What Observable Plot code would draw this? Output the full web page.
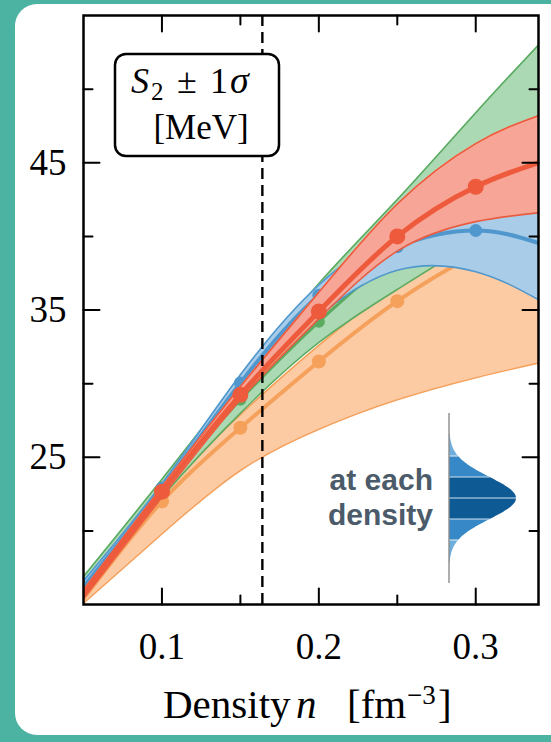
<!DOCTYPE html>
<html>
<head>
<meta charset="utf-8">
<script src="https://cdn.jsdelivr.net/npm/d3@7"></script>
<script src="https://cdn.jsdelivr.net/npm/@observablehq/plot@0.6"></script>
<style>
  html, body { margin: 0; padding: 0; }
  body { width: 551px; height: 742px; background: #4cb2a2; position: relative; overflow: hidden; }
  #panel { position: absolute; left: 15px; top: 4px; width: 560px; height: 731px; background: #fff; border-radius: 22px; }
  #chart { position: absolute; left: 0; top: 0; }
  #chart svg { display: block; overflow: visible; }
</style>
</head>
<body>
<div id="panel"></div>
<div id="chart"></div>
<script>
// Density grid (fm^-3) at which each band is sampled
const density = [0.05, 0.1, 0.15, 0.2, 0.25, 0.3, 0.34];

// Symmetry energy S2 [MeV]: lower 1σ edge, central value, upper 1σ edge
const orangeLower = [15.1, 19.8, 24.1, 26.9, 28.9, 30.4, 31.4];
const orangeMid   = [15.4, 22.0, 27.0, 31.5, 35.6, 38.8, 40.8];
const orangeUpper = [16.2, 22.6, 27.9, 32.6, 36.7, 40.0, 41.5];

const greenLower = [16.0, 22.3, 28.0, 32.8, 36.4, 39.7, 42.2];
const greenMid   = [16.4, 22.9, 28.9, 34.2, 38.9, 43.6, 47.2];
const greenUpper = [16.9, 23.5, 30.3, 36.8, 42.5, 48.4, 53.0];

const blueLower = [15.8, 22.5, 29.3, 34.6, 37.7, 37.6, 35.7];
const blueMid   = [16.2, 22.9, 30.05, 36.0, 39.3, 40.4, 39.55];
const blueUpper = [16.6, 23.2, 30.6, 36.7, 40.2, 41.4, 41.6];

const redLower = [15.4, 22.3, 28.9, 34.4, 39.0, 41.0, 41.6];
const redMid   = [15.7, 22.66, 29.24, 34.9, 40.0, 43.37, 45.0];
const redUpper = [16.0, 23.0, 29.8, 36.2, 42.2, 46.3, 48.2];

// Densities where the central values are marked with dots
const dotDensities = [0.1, 0.15, 0.2, 0.25, 0.3];

// Saturation density
const nSat = 0.164;

// Ticks
const xMajor = [0.1, 0.2, 0.3];
const xMinor = [0.15, 0.25];
const yMajor = [25, 35, 45];
const yMinor = [20, 30, 40, 50];

const series = [
  {name: "orange", lo: orangeLower, mid: orangeMid, hi: orangeUpper, band: "#fccba3", line: "#f5a15c", w: 4, r: 7},
  {name: "green",  lo: greenLower,  mid: greenMid,  hi: greenUpper,  band: "#abd9b3", line: "#5aab61", w: 3, r: 6},
  {name: "blue",   lo: blueLower,   mid: blueMid,   hi: blueUpper,   band: "#a9cde9", line: "#4f97cd", w: 4, r: 6.5},
  {name: "red",    lo: redLower,    mid: redMid,    hi: redUpper,    band: "#f7a596", line: "#ee5a3c", w: 5, r: 8}
];

const tickShape = {draw(context, l) { context.moveTo(0, 0); context.lineTo(0, -l); }};
const tickStyle = {stroke: "black", strokeWidth: 2, anchor: "start", shape: tickShape};

const marks = [];
for (const s of series) {
  const rows = density.map((n, i) => ({n, lo: s.lo[i], mid: s.mid[i], hi: s.hi[i]}));
  const dots = rows.filter(d => dotDensities.includes(d.n));
  marks.push(
    Plot.areaY(rows, {x: "n", y1: "lo", y2: "hi", fill: s.band, curve: "natural", clip: true}),
    Plot.line(rows, {x: "n", y: "lo", stroke: s.line, strokeWidth: 1.6, curve: "natural", clip: true}),
    Plot.line(rows, {x: "n", y: "hi", stroke: s.line, strokeWidth: 1.6, curve: "natural", clip: true}),
    Plot.line(rows, {x: "n", y: "mid", stroke: s.line, strokeWidth: s.w, curve: "natural", clip: true}),
    Plot.dot(dots, {x: "n", y: "mid", r: s.r, fill: s.line, clip: true})
  );
}

marks.push(
  Plot.ruleX([nSat], {stroke: "black", strokeWidth: 2.4, strokeDasharray: "11,6"}),
  // inward ticks on all four sides
  Plot.vector(xMajor, {x: d => d, frameAnchor: "bottom", rotate: 0, length: 16, ...tickStyle}),
  Plot.vector(xMinor, {x: d => d, frameAnchor: "bottom", rotate: 0, length: 9, ...tickStyle}),
  Plot.vector(xMajor, {x: d => d, frameAnchor: "top", rotate: 180, length: 16, ...tickStyle}),
  Plot.vector(xMinor, {x: d => d, frameAnchor: "top", rotate: 180, length: 9, ...tickStyle}),
  Plot.vector(yMajor, {y: d => d, frameAnchor: "left", rotate: 90, length: 16, ...tickStyle}),
  Plot.vector(yMinor, {y: d => d, frameAnchor: "left", rotate: 90, length: 9, ...tickStyle}),
  Plot.vector(yMajor, {y: d => d, frameAnchor: "right", rotate: -90, length: 16, ...tickStyle}),
  Plot.vector(yMinor, {y: d => d, frameAnchor: "right", rotate: -90, length: 9, ...tickStyle}),
  Plot.axisX({ticks: xMajor, tickSize: 0, tickPadding: 28, fontSize: 37, label: null, tickFormat: d => d.toFixed(1)}),
  Plot.axisY({ticks: yMajor, tickSize: 0, tickPadding: 17, fontSize: 37, label: null}),
  Plot.frame({stroke: "black", strokeWidth: 2.5})
);

const chart = Plot.plot({
  width: 551,
  height: 742,
  marginLeft: 83,
  marginRight: 13,
  marginTop: 15,
  marginBottom: 138,
  x: {domain: [0.05, 0.34]},
  y: {domain: [15, 55]},
  style: {background: "transparent", fontFamily: "'Liberation Serif', serif", color: "black"},
  marks
});
document.getElementById("chart").appendChild(chart);

const svg = d3.select(chart);
const serif = "'Liberation Serif', serif";

// Legend box
const key = svg.append("g").attr("font-family", serif).attr("text-anchor", "start");
key.append("rect")
  .attr("x", 115).attr("y", 54).attr("width", 164).attr("height", 102).attr("rx", 11)
  .attr("fill", "white").attr("stroke", "black").attr("stroke-width", 2.5);
key.append("text").attr("x", 131).attr("y", 93).attr("font-size", 36).attr("font-style", "italic").text("S");
key.append("text").attr("x", 151).attr("y", 100).attr("font-size", 25).text("2");
key.append("text").attr("x", 177).attr("y", 93).attr("font-size", 36).text("±");
key.append("text").attr("x", 210).attr("y", 93).attr("font-size", 36).text("1");
key.append("text").attr("x", 230).attr("y", 93).attr("font-size", 38).attr("font-style", "italic").text("σ");
key.append("text")
  .attr("x", 201).attr("y", 139).attr("text-anchor", "middle")
  .attr("font-size", 35).text("[MeV]");

// x-axis title
const xt = svg.append("g").attr("font-family", serif).attr("font-size", 41).attr("text-anchor", "start");
xt.append("text").attr("x", 163).attr("y", 718).text("Density");
xt.append("text").attr("x", 296).attr("y", 718).attr("font-style", "italic").text("n");
xt.append("text").attr("x", 347).attr("y", 718).text("[fm");
xt.append("text").attr("x", 407).attr("y", 704).attr("font-size", 27).text("−3");
xt.append("text").attr("x", 438).attr("y", 718).text("]");

// Inset: distribution at each density
const inset = svg.append("g");
const cx = 449, cy = 498, amp = 67, sig = 21;
const edge = t => [cx + amp * Math.exp(-t * t / 2), cy + t * sig];
const bandPath = (t0, t1) => {
  const pts = [[cx, cy + t0 * sig], ...d3.range(t0, t1 + 1e-9, 0.05).map(edge), [cx, cy + t1 * sig]];
  return d3.line()(pts) + "Z";
};
const shades = [
  [-3.1, -2, "#6eaedc"], [-2, -1, "#3689c6"], [-1, 1, "#0d5a94"], [1, 2, "#3689c6"], [2, 3.1, "#6eaedc"]
];
for (const [t0, t1, c] of shades) {
  inset.append("path").attr("d", bandPath(t0, t1)).attr("fill", c);
}
for (const t of [-2, -1, 0, 1, 2]) {
  const [x] = edge(t);
  inset.append("line").attr("x1", cx).attr("x2", x).attr("y1", cy + t * sig).attr("y2", cy + t * sig)
    .attr("stroke", "#cfe2f2").attr("stroke-width", 1.2);
}
inset.append("line").attr("x1", cx).attr("x2", cx).attr("y1", 413).attr("y2", 583)
  .attr("stroke", "#8c8c8c").attr("stroke-width", 1.4);
inset.append("text").attr("x", 433).attr("y", 490).attr("text-anchor", "end")
  .attr("font-family", "'Liberation Sans', Arial, sans-serif").attr("font-weight", "bold")
  .attr("font-size", 30).attr("fill", "#4b5b6a").text("at each");
inset.append("text").attr("x", 433).attr("y", 525).attr("text-anchor", "end")
  .attr("font-family", "'Liberation Sans', Arial, sans-serif").attr("font-weight", "bold")
  .attr("font-size", 30).attr("fill", "#4b5b6a").text("density");
</script>
</body>
</html>
